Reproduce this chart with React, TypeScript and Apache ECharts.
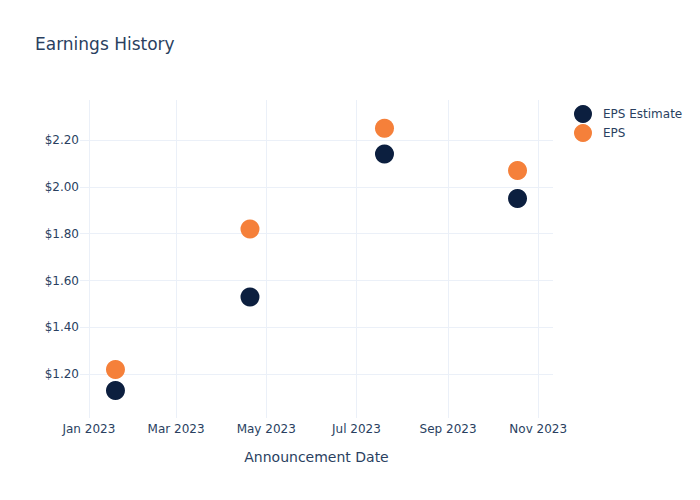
import React, { useEffect, useRef } from "react";
import * as echarts from "echarts";

const dates = ["2023-01-19", "2023-04-20", "2023-07-20", "2023-10-18"];
const epsEstimate = [1.13, 1.53, 2.14, 1.95];
const epsActual = [1.22, 1.82, 2.25, 2.07];
const xTickDates = ["2023-01-01", "2023-03-01", "2023-05-01", "2023-07-01", "2023-09-01", "2023-11-01"];
const yTicks = [1.2, 1.4, 1.6, 1.8, 2.0, 2.2];
const monthNames = ["Jan", "Feb", "Mar", "Apr", "May", "Jun", "Jul", "Aug", "Sep", "Oct", "Nov", "Dec"];

const ts = (s: string) => {
  const [y, m, d] = s.split("-").map(Number);
  return Date.UTC(y, m - 1, d);
};

export default function App() {
  const ref = useRef<HTMLDivElement>(null);
  useEffect(() => {
    if (!ref.current) return;
    const chart = echarts.init(ref.current, undefined, { renderer: "svg" });
    const font = "DejaVu Sans, Verdana, sans-serif";
    const textColor = "#2a3f5f";
    const grid = "#ebf0f8";
    chart.setOption({
      animation: false,
      textStyle: { fontFamily: font },
      title: {
        text: "Earnings History",
        left: 30,
        top: 30,
        textStyle: { fontFamily: font, fontSize: 17, fontWeight: "normal", color: textColor },
      },
      legend: {
        orient: "vertical",
        left: 569,
        top: 100,
        itemWidth: 18,
        itemHeight: 18,
        itemGap: 1,
        icon: "circle",
        textStyle: { fontFamily: font, fontSize: 12, color: textColor, padding: [0, 0, 0, 6] },
        data: ["EPS Estimate", "EPS"],
      },
      grid: { left: 80, right: 147, top: 100, bottom: 82 },
      xAxis: {
        type: "value",
        min: ts("2022-12-26"),
        max: ts("2023-11-11"),
        name: "Announcement Date",
        nameLocation: "middle",
        nameGap: 32,
        nameTextStyle: { fontFamily: font, fontSize: 14, color: textColor },
        axisLine: { show: false },
        axisTick: { show: false, customValues: xTickDates.map(ts) },
        splitLine: { show: true, lineStyle: { color: grid, width: 1 } },
        axisLabel: {
          customValues: xTickDates.map(ts),
          fontFamily: font,
          fontSize: 12,
          color: textColor,
          margin: 5,
          hideOverlap: false,
          formatter: (v: number) => {
            const d = new Date(v);
            return monthNames[d.getUTCMonth()] + " " + d.getUTCFullYear();
          },
        },
      },
      yAxis: {
        type: "value",
        min: 1.013,
        max: 2.371,
        axisLine: { show: false },
        axisTick: { show: false, customValues: yTicks },
        splitLine: { show: true, lineStyle: { color: grid, width: 1 } },
        axisLabel: {
          customValues: yTicks,
          fontFamily: font,
          fontSize: 12,
          color: textColor,
          margin: 1,
          formatter: (v: number) => "$" + v.toFixed(2),
        },
      },
      series: [
        {
          name: "EPS Estimate",
          type: "scatter",
          symbolSize: 19,
          itemStyle: { color: "#0c1f3f", opacity: 1 },
          data: dates.map((d, i) => [ts(d), epsEstimate[i]]),
        },
        {
          name: "EPS",
          type: "scatter",
          symbolSize: 19,
          itemStyle: { color: "#f5803a", opacity: 1 },
          data: dates.map((d, i) => [ts(d), epsActual[i]]),
        },
      ],
    });
    return () => chart.dispose();
  }, []);
  return <div ref={ref} style={{ position: "absolute", left: 0, top: 0, width: 700, height: 500 }} />;
}
